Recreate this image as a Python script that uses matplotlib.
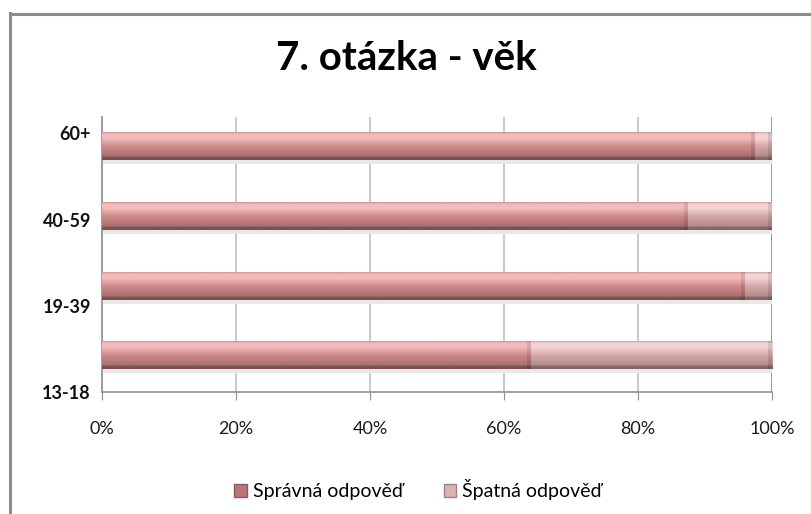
import numpy as np
import matplotlib
matplotlib.use("Agg")
import matplotlib.pyplot as plt
from matplotlib.colors import LinearSegmentedColormap
from matplotlib.lines import Line2D
from matplotlib.patches import Rectangle

categories = ["13-18", "19-39", "40-59", "60+"]
spravna = [64.0, 96.0, 87.5, 97.5]
spatna = [36.0, 4.0, 12.5, 2.5]
series_names = ["Správná odpověď", "Špatná odpověď"]
x_ticks = [0, 20, 40, 60, 80, 100]
x_ticklabels = ["0%", "20%", "40%", "60%", "80%", "100%"]
title = "7. otázka - věk"

plt.rcParams['font.family'] = ['Lato', 'DejaVu Sans']

W, H = 811, 514
fig = plt.figure(figsize=(W / 100, H / 100), dpi=100)
ax = fig.add_axes([102 / W, 1 - 392 / H, 670 / W, (392 - 117) / H])

# figure frame (left + top)
fig.add_artist(Line2D([9.5 / W, 9.5 / W], [0, 1 - 13 / H], color="#8c8c8c", lw=2.2, transform=fig.transFigure))
fig.add_artist(Line2D([9.5 / W, 1], [1 - 13.5 / H, 1 - 13.5 / H], color="#8c8c8c", lw=2.2, transform=fig.transFigure))

y = np.arange(len(categories))
bar_h = 0.40

def make_cmap(top, light, mid, low, dark):
    return LinearSegmentedColormap.from_list(
        "g", [(0.0, top), (0.07, light), (0.22, light), (0.5, mid), (0.86, low), (0.92, dark), (1.0, dark)])

cm1 = make_cmap("#d79494", "#f2bcbc", "#d08a8a", "#a97070", "#7a5050")
cm2 = make_cmap("#d6a4a4", "#f3d4d4", "#d6a8a8", "#b48a8a", "#866565")

grad = np.linspace(0, 1, 64).reshape(-1, 1)

def gradient_bars(lefts, widths, cmap):
    bars = ax.barh(y, widths, left=lefts, height=bar_h, color="none", edgecolor="none", zorder=3)
    for b in bars:
        x0, y0 = b.get_x(), b.get_y()
        w, h = b.get_width(), b.get_height()
        # soft shadow below
        ax.add_patch(Rectangle((x0, y0 - 0.06), w, 0.06, color="#e8e8e8", zorder=2, lw=0))
        im = ax.imshow(grad, cmap=cmap, aspect="auto", extent=(x0, x0 + w, y0, y0 + h),
                       origin="upper", zorder=3, interpolation="bilinear")
        im.set_clip_path(b)
        # bevel edge on the right
        ax.add_patch(Rectangle((x0 + w - 0.6, y0), 0.6, h, color="#000000", alpha=0.10, zorder=4, lw=0))
    return bars

gradient_bars([0] * 4, spravna, cm1)
gradient_bars(spravna, spatna, cm2)

ax.set_xlim(0, 100)
# bar centers at 356 and 146.5 px -> 70 px per category
ax.set_ylim(-(392 - 356) / 70, 3 + (146.5 - 117) / 70)

ax.set_xticks(x_ticks)
ax.set_xticklabels(x_ticklabels, fontsize=13, color="#1a1a1a")
# category labels sit slightly off the bar centers in the original 3D chart
lab_pos = [-(393 - 356) / 70 + i * (393 - 133) / 3 / 70 for i in range(len(categories))]
ax.set_yticks(lab_pos)
ax.set_yticklabels(categories, fontsize=13, fontweight="bold", color="#111111")

ax.grid(axis="x", color="#c0c0c0", lw=1.2, zorder=0)
ax.set_axisbelow(True)
for s in ["top", "right"]:
    ax.spines[s].set_visible(False)
ax.axvline(100, color="#909090", lw=1.2, zorder=1)
for s in ["left", "bottom"]:
    ax.spines[s].set_color("#909090")
    ax.spines[s].set_linewidth(1.2)
ax.tick_params(axis="x", length=6, color="#909090", pad=15)
ax.tick_params(axis="y", length=0, pad=8)

fig.text(406 / W, 1 - 58 / H, title, ha="center", va="center", fontsize=29, fontweight="bold", color="#000000")

# legend
handles = [Rectangle((0, 0), 1, 1, facecolor="#b97878", edgecolor="#8a5a5a"),
           Rectangle((0, 0), 1, 1, facecolor="#d9b3b3", edgecolor="#a08080")]
fig.legend(handles, series_names, loc="center", bbox_to_anchor=(418 / W, 1 - 490 / H), ncol=2,
           frameon=False, fontsize=14, handlelength=0.65, handleheight=0.65, handletextpad=0.3,
           columnspacing=2.1)

fig.savefig("out.png", dpi=100, facecolor="white")
